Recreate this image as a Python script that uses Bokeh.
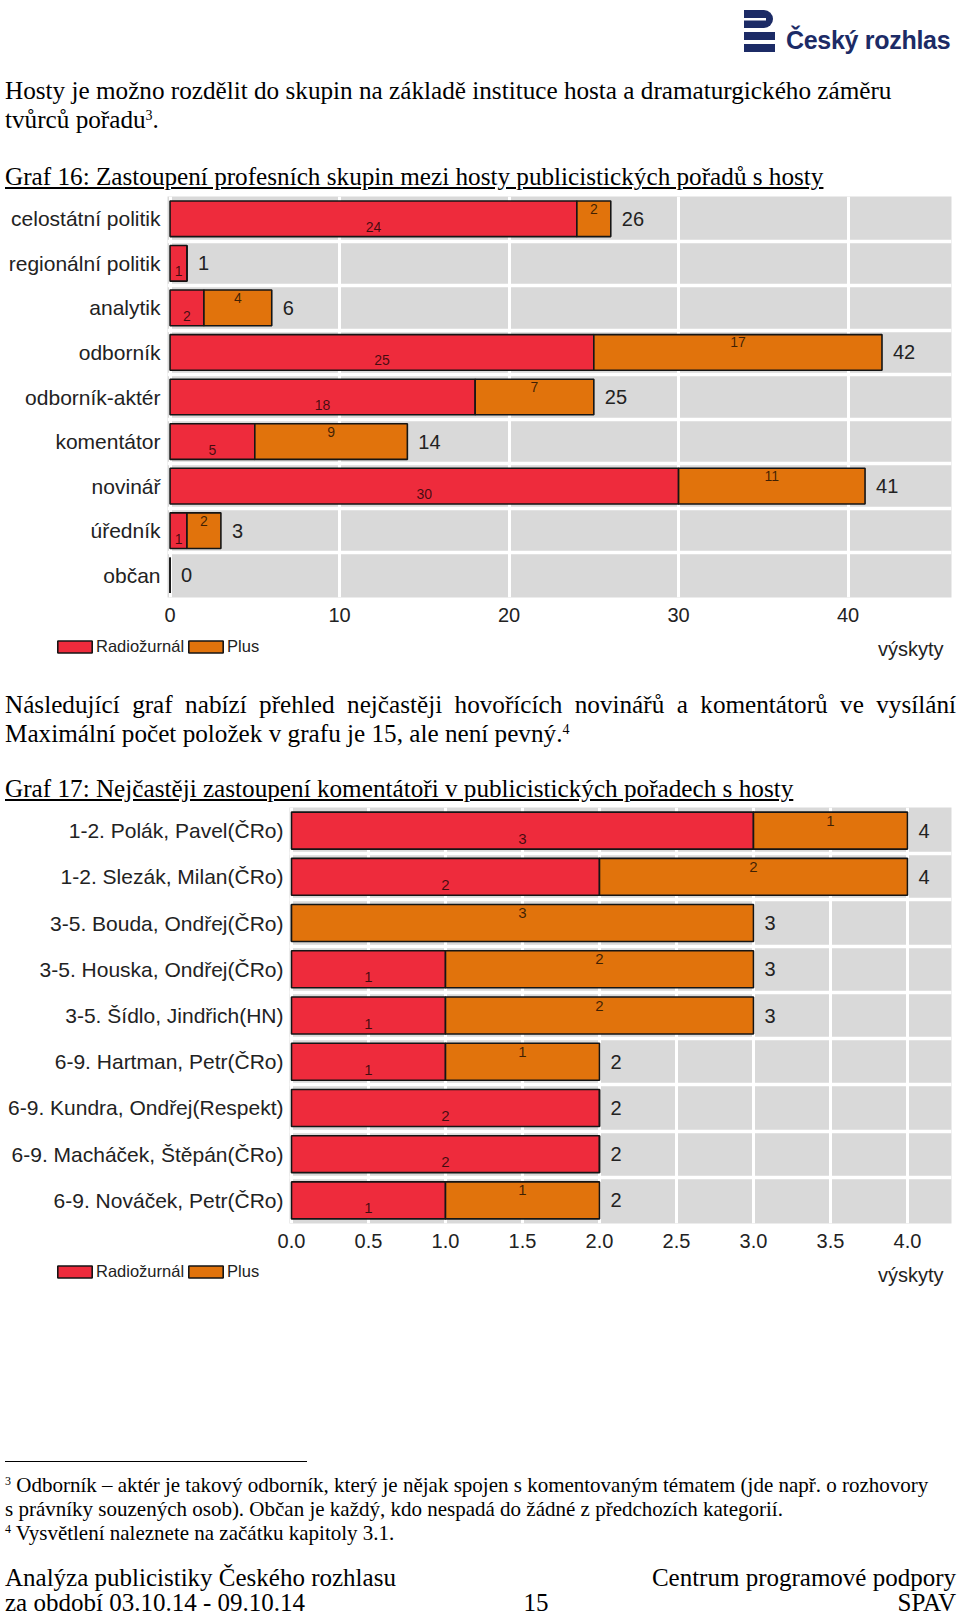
from bokeh.plotting import figure
from bokeh.models import (Div, Legend, LegendItem, Label, FixedTicker, ColumnDataSource,
                          Range1d, FactorRange, PrintfTickFormatter)
from bokeh.embed import file_html
from bokeh.resources import INLINE
from bokeh.core.properties import value

# ---------------- data ----------------
series_names = ["Radiožurnál", "Plus"]

groups16 = ["celostátní politik", "regionální politik", "analytik", "odborník",
            "odborník-aktér", "komentátor", "novinář", "úředník", "občan"]
radiozurnal16 = [24, 1, 2, 25, 18, 5, 30, 1, 0]
plus16 = [2, 0, 4, 17, 7, 9, 11, 2, 0]
ticks16 = [0, 10, 20, 30, 40]

names17 = ["1-2. Polák, Pavel(ČRo)", "1-2. Slezák, Milan(ČRo)", "3-5. Bouda, Ondřej(ČRo)",
           "3-5. Houska, Ondřej(ČRo)", "3-5. Šídlo, Jindřich(HN)", "6-9. Hartman, Petr(ČRo)",
           "6-9. Kundra, Ondřej(Respekt)", "6-9. Macháček, Štěpán(ČRo)", "6-9. Nováček, Petr(ČRo)"]
radiozurnal17 = [3, 2, 0, 1, 1, 1, 2, 2, 1]
plus17 = [1, 2, 3, 2, 2, 1, 0, 0, 1]
ticks17 = [0.0, 0.5, 1.0, 1.5, 2.0, 2.5, 3.0, 3.5, 4.0]

axis_title = "výskyty"

# ---------------- style ----------------
RED = "#ee2b3c"
ORANGE = "#e1730c"
OUTLINE = "#151515"
PANEL = "#d9d9d9"
SANS = "Liberation Sans"
SERIF = "'Liberation Serif', 'Times New Roman', serif"
TXT = "#222222"
NAVY = "#1c2b66"
PAGE_W = 960


def make_chart(cats, rz, pl, ticks, x_start, x_end, frame_w, frame_h, b_left, b_top, b_bottom,
               seg_size, y_standoff, fmt=None):
    p = figure(y_range=FactorRange(factors=list(reversed(cats))),
               x_range=Range1d(x_start, x_end),
               frame_width=frame_w, frame_height=frame_h,
               min_border_left=b_left, min_border_right=PAGE_W - b_left - frame_w,
               min_border_top=b_top, min_border_bottom=b_bottom,
               output_backend="svg", toolbar_location=None,
               background_fill_color=PANEL, border_fill_color="white",
               outline_line_color=None, margin=0)
    total = [a + b for a, b in zip(rz, pl)]
    src = ColumnDataSource(dict(cat=cats, rz=rz, pl=pl, total=total,
                                tl=[str(t) for t in total]))
    p.hbar_stack(["rz", "pl"], y="cat", height=0.8, color=[RED, ORANGE],
                 line_color=OUTLINE, line_width=1.6, source=src)

    seg_r = ColumnDataSource(dict(
        x=[v / 2 for v in rz if v > 0],
        cat=[c for c, v in zip(cats, rz) if v > 0],
        t=[str(v) for v in rz if v > 0]))
    seg_p = ColumnDataSource(dict(
        x=[a + v / 2 for a, v in zip(rz, pl) if v > 0],
        cat=[c for c, v in zip(cats, pl) if v > 0],
        t=[str(v) for v in pl if v > 0]))
    common = dict(text_align="center", text_baseline="middle", text_font=value(SANS),
                  text_font_size=seg_size, text_color="black", text_alpha=0.72)
    p.text(x="x", y="cat", text="t", y_offset=8, source=seg_r, **common)
    p.text(x="x", y="cat", text="t", y_offset=-10, source=seg_p, **common)

    p.text(x="total", y="cat", text="tl", x_offset=11, text_align="left",
           text_baseline="middle", text_font=value(SANS), text_font_size="20px",
           text_color=TXT, source=src)

    # white grid: at major x ticks and between the rows
    p.xgrid.ticker = FixedTicker(ticks=ticks)
    p.xgrid.grid_line_color = "white"
    p.xgrid.grid_line_width = 3
    p.ygrid.ticker = FixedTicker(ticks=list(range(1, len(cats))))
    p.ygrid.grid_line_color = "white"
    p.ygrid.grid_line_width = 3.5

    p.xaxis.ticker = FixedTicker(ticks=ticks)
    if fmt:
        p.xaxis.formatter = PrintfTickFormatter(format=fmt)
    for ax in (p.xaxis, p.yaxis):
        ax.axis_line_color = None
        ax.major_tick_line_color = None
        ax.minor_tick_line_color = None
        ax.major_tick_out = 0
        ax.major_tick_in = 0
        ax.minor_tick_out = 0
        ax.minor_tick_in = 0
        ax.major_label_text_font = SANS
        ax.major_label_text_color = TXT
    p.xaxis.major_label_text_font_size = "20px"
    p.xaxis.major_label_standoff = 10
    p.yaxis.major_label_text_font_size = "21px"
    p.yaxis.major_label_standoff = y_standoff
    return p


def make_legend_strip(height, leg_x, leg_center, title_center):
    lf = figure(frame_width=PAGE_W, frame_height=height,
                x_range=Range1d(0, 1), y_range=Range1d(0, 1),
                min_border=0, min_border_left=0, min_border_right=0,
                min_border_top=0, min_border_bottom=0,
                x_axis_location=None, y_axis_location=None,
                output_backend="svg", toolbar_location=None,
                outline_line_color=None, background_fill_color="white", margin=0)
    lf.xgrid.visible = False
    lf.ygrid.visible = False
    # legend proxies (kept outside the visible range)
    proxy = ColumnDataSource(dict(y=[-5], left=[0], right=[0]))
    r1 = lf.hbar(y="y", left="left", right="right", height=0.8, fill_color=RED,
                 line_color=OUTLINE, line_width=1.6, source=proxy)
    r2 = lf.hbar(y="y", left="left", right="right", height=0.8, fill_color=ORANGE,
                 line_color=OUTLINE, line_width=1.6, source=proxy)
    legend = Legend(items=[LegendItem(label=value(series_names[0]), renderers=[r1]),
                           LegendItem(label=value(series_names[1]), renderers=[r2])],
                    location=(leg_x, height - leg_center - 10), orientation="horizontal",
                    glyph_width=43, glyph_height=15, label_standoff=0, spacing=0,
                    padding=0, margin=0, border_line_color=None, background_fill_alpha=0,
                    label_text_font=SANS, label_text_font_size="16.5px",
                    label_text_color=TXT, label_height=20)
    lf.add_layout(legend, "center")
    lf.add_layout(Label(x=943, y=height - title_center, x_units="screen", y_units="screen",
                        text=axis_title, text_align="right", text_baseline="middle",
                        text_font=SANS, text_font_size="20px", text_color=TXT))
    return lf


fig16 = make_chart(groups16, radiozurnal16, plus16, ticks16, -0.15, 46.1, 784, 401,
                   167, 6, 34, "14px", 7)
leg16 = make_legend_strip(34, 53, 15, 17)
fig17 = make_chart(names17, radiozurnal17, plus17, ticks17, -0.013, 4.286, 662, 416,
                   289, 2, 34, "15px", 6, fmt="%.1f")
leg17 = make_legend_strip(41, 53, 14, 17)


# ---------------- page texts ----------------
def at(top, left, html, size, extra=""):
    return (f'<div style="position:absolute;top:{top}px;left:{left}px;white-space:nowrap;'
            f'font-size:{size}px;line-height:{size}px;{extra}">{html}</div>')


def sup(n, size=14):
    return f'<span style="font-size:{size}px;vertical-align:top;position:relative;top:-4px">{n}</span>'


logo_svg = (
    '<svg width="31" height="42" viewBox="0 0 31 42" xmlns="http://www.w3.org/2000/svg">'
    f'<path d="M0 0 H20 A9 9 0 0 1 20 18 H0 Z" fill="{NAVY}"/>'
    '<rect x="0" y="8" width="22" height="2.5" fill="white"/>'
    f'<rect x="0" y="22" width="31" height="8" fill="{NAVY}"/>'
    f'<rect x="0" y="34" width="31" height="8" fill="{NAVY}"/>'
    '</svg>')


def box(h, inner, extra=""):
    return (f'<div style="position:relative;width:{PAGE_W}px;height:{h}px;font-family:{SERIF};'
            f'color:#000;{extra}">' + inner + '</div>')


F = 25.2
top_html = box(190,
    f'<div style="position:absolute;top:10px;left:744px">{logo_svg}</div>'
    + at(28, 786, "Český rozhlas", 25,
         f"font-family:'Liberation Sans',Arial,sans-serif;font-weight:bold;color:{NAVY};letter-spacing:-0.3px")
    + at(78, 5, "Hosty je možno rozdělit do skupin na základě instituce hosta a dramaturgického záměru", F)
    + at(107, 5, "tvůrců pořadu" + sup(3) + ".", F)
    + at(164, 5, "Graf 16: Zastoupení profesních skupin mezi hosty publicistických pořadů s hosty", F,
         "text-decoration:underline"))

mid_html = box(140,
    at(27, 5, "Následující graf nabízí přehled nejčastěji hovořících novinářů a komentátorů ve vysílání", F,
       "width:951px;white-space:normal;text-align:justify;text-align-last:justify")
    + at(56, 5, "Maximální počet položek v grafu je 15, ale není pevný." + sup(4), F)
    + at(111, 5, "Graf 17: Nejčastěji zastoupení komentátoři v publicistických pořadech s hosty", F,
         "text-decoration:underline"))

bot_html = box(318,
    '<div style="position:absolute;top:163px;left:5px;width:302px;height:1px;background:#000"></div>'
    + at(177, 5, sup(3, 12) + " Odborník – aktér je takový odborník, který je nějak spojen s komentovaným tématem (jde např. o rozhovory", 21)
    + at(201, 5, "s právníky souzených osob). Občan je každý, kdo nespadá do žádné z předchozích kategorií.", 21)
    + at(225, 5, sup(4, 12) + " Vysvětlení naleznete na začátku kapitoly 3.1.", 21)
    + at(267, 5, "Analýza publicistiky Českého rozhlasu", 25)
    + at(267, 0, "Centrum programové podpory", 25, "width:956px;text-align:right")
    + at(292, 5, "za období 03.10.14 - 09.10.14", 25)
    + at(292, 516, "15", 25, "width:40px;text-align:center")
    + at(292, 0, "SPAV", 25, "width:956px;text-align:right"),
    "overflow:hidden")

div_top = Div(text=top_html, width=PAGE_W, height=190, margin=0)
div_mid = Div(text=mid_html, width=PAGE_W, height=140, margin=0)
div_bot = Div(text=bot_html, width=PAGE_W, height=318, margin=0)

roots = [div_top, fig16, leg16, div_mid, fig17, leg17, div_bot]
for r in roots:
    r.styles = {"vertical-align": "top"}

with open("out.html", "w") as f:
    f.write(file_html(roots, INLINE, title="Graf 16 a 17"))
